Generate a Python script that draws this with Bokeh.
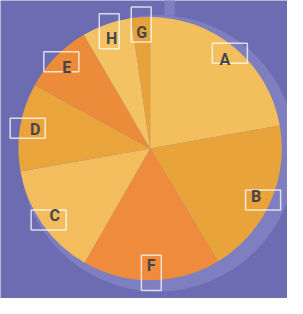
import math
from bokeh.plotting import figure
from bokeh.models import Range1d, ColumnDataSource
from bokeh.core.properties import value
from bokeh.embed import file_html
from bokeh.resources import INLINE

# ---- data (clockwise from 12 o'clock) ----
labels = ["A", "B", "F", "C", "D", "E", "H", "G"]
shares = [22.2, 19.2, 16.9, 13.9, 10.8, 8.6, 6.1, 2.3]
colors = ["#F3BE5C", "#E9A33B", "#EE8B3D", "#F3BD5D", "#E9A43C", "#EC8B3A", "#F2C263", "#E6A33B"]

# ---- layout (coordinates in reference pixels, y up) ----
W, H = 303, 314
CX, CY, R = 158, 158, 139
BOX_R, TEXT_R = 131, 123
BG = "#6C6CB2"
RING = "#7E7EC0"

total = sum(shares)
starts, ends, mids = [], [], []
acc = 0.0
for s in shares:
    a0 = acc / total * 2 * math.pi
    acc += s
    a1 = acc / total * 2 * math.pi
    starts.append(math.pi / 2 - a0)
    ends.append(math.pi / 2 - a1)
    mids.append((a0 + a1) / 2)

bx = [CX + BOX_R * math.sin(m) for m in mids]
by = [CY + BOX_R * math.cos(m) for m in mids]
tx = [CX + TEXT_R * math.sin(m) for m in mids]
ty = [CY + TEXT_R * math.cos(m) for m in mids]
vertical = [abs(math.cos(m)) > 0.85 for m in mids]
bw = [21 if v else 37 for v in vertical]
bh = [37 if v else 21 for v in vertical]

src = ColumnDataSource(dict(label=labels, color=colors, start=starts, end=ends,
                            bx=bx, by=by, tx=tx, ty=ty, bw=bw, bh=bh))

p = figure(width=287, height=298, output_backend="svg", toolbar_location=None,
           x_range=Range1d(0, W), y_range=Range1d(0, H),
           min_border=0, outline_line_color=None)
p.axis.visible = False
p.grid.visible = False
p.background_fill_color = BG
p.border_fill_color = BG

# halo ring and stem
p.quad(left=[173], right=[184], bottom=[298], top=[320], fill_color=RING, line_color=None)
p.circle(x=[166], y=[153], radius=146, fill_color=RING, line_color=None)

p.wedge(x=CX, y=CY, radius=R, start_angle="start", end_angle="end", direction="clock",
        fill_color="color", line_color=None, source=src)

p.rect(x="bx", y="by", width="bw", height="bh", fill_alpha=0,
       line_color="white", line_alpha=0.75, line_width=1.5, source=src)

p.text(x="tx", y="ty", text="label", text_align="center", text_baseline="middle",
       text_font=value("Roboto"), text_font_style="bold",
       text_font_size="16px", text_color="#48444E", source=src)

open("out.html", "w").write(file_html(p, INLINE))
